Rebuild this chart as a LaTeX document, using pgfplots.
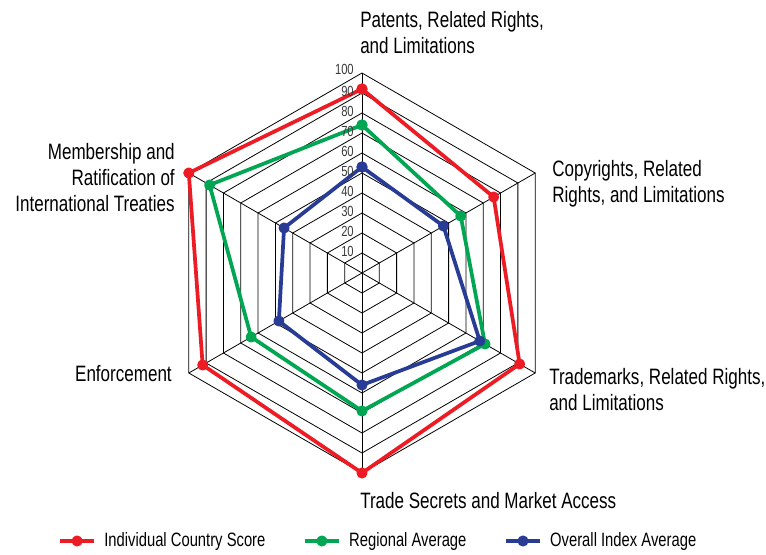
\documentclass[border=0pt]{standalone}
\usepackage{pgfplots}
\pgfplotsset{compat=1.18}
\usepackage{pgfplotstable}
\usepackage{fontspec}
\setmainfont{Liberation Sans}[FakeStretch=0.765]

\definecolor{cred}{HTML}{ED1C24}
\definecolor{cgreen}{HTML}{00A651}
\definecolor{cblue}{HTML}{283C96}
\definecolor{ticktext}{HTML}{3A3A3A}

% angle (deg), scores; first row repeated to close the polygon
\pgfplotstableread{
angle country regional overall
90    92      74       53
30    76      57       47
-30   91      71       68
-90   100     69       56
-150  92      64       48
150   100     88       45
90    92      74       53
}\radardata

\begin{document}
\begin{tikzpicture}
\begin{axis}[
  at={(0,0)}, anchor=south west,
  x=1.5pt, y=1.5pt,
  xmin=-181, xmax=202, ymin=-140.5, ymax=136.5,
  enlargelimits=false,
  hide axis, clip=false,
  legend columns=3,
  legend cell align=left,
  legend style={at={(0.494,0.0235)}, anchor=center, draw=none, fill=none,
    font=\fontsize{14.5}{16}\selectfont,
    /tikz/every odd column/.append style={column sep=4pt},
    /tikz/every even column/.append style={column sep=26pt}},
  legend image code/.code={
    \draw[mark repeat=2, mark phase=2, #1] plot coordinates {(0pt,0pt) (13pt,0pt) (26pt,0pt)};
  },
  grid line/.style={black, line width=0.6pt, forget plot},
  series/.style={data cs=polar, line width=2.8pt, mark=*, mark size=2.7pt, line join=round},
]
% hexagon grid
\pgfplotsinvokeforeach{10,20,...,100}{
  \addplot[grid line, data cs=polar] coordinates {(90,#1) (30,#1) (-30,#1) (-90,#1) (-150,#1) (150,#1) (90,#1)};
}
% spokes
\pgfplotsinvokeforeach{90,30,-30,-90,-150,150}{
  \addplot[grid line, data cs=polar] coordinates {(#1,0) (#1,100)};
}

\addplot[series, cred, mark options={fill=cred}] table[x=angle, y=country] {\radardata};
\addlegendentry{Individual Country Score}
\addplot[series, cgreen, mark options={fill=cgreen}] table[x=angle, y=regional] {\radardata};
\addlegendentry{Regional Average}
\addplot[series, cblue, mark options={fill=cblue}] table[x=angle, y=overall] {\radardata};
\addlegendentry{Overall Index Average}

% scale labels
\begin{scope}[every node/.style={anchor=east, inner sep=0pt, text=ticktext, font=\fontsize{11}{12}\selectfont}]
\node at (axis cs:-4,11) {10};
\node at (axis cs:-4,21) {20};
\node at (axis cs:-4,31) {30};
\node at (axis cs:-4,41) {40};
\node at (axis cs:-4,51) {50};
\node at (axis cs:-4,61) {60};
\node at (axis cs:-4,71) {70};
\node at (axis cs:-4,81) {80};
\node at (axis cs:-4,91) {90};
\node at (axis cs:-4,102) {100};
\end{scope}

% category labels
\begin{scope}[every node/.style={inner sep=0pt, font=\fontsize{16.7}{19.5}\selectfont}]
\node[anchor=north west, align=left] at (axis cs:-1,131) {Patents, Related Rights,\\and Limitations};
\node[anchor=north west, align=left] at (axis cs:95,56.5) {Copyrights, Related\\Rights, and Limitations};
\node[anchor=north west, align=left] at (axis cs:93.5,-47.5) {Trademarks, Related Rights,\\and Limitations};
\node[anchor=north west, align=left] at (axis cs:-1,-109.5) {Trade Secrets and Market Access};
\node[anchor=north east, align=right] at (axis cs:-95,-46) {Enforcement};
\node[anchor=north east, align=right] at (axis cs:-93.5,65) {Membership and\\Ratification of\\International Treaties};
\end{scope}
\end{axis}
\pgfresetboundingbox
\path (0,0) rectangle (574.5pt,415.5pt);
\end{tikzpicture}
\end{document}
